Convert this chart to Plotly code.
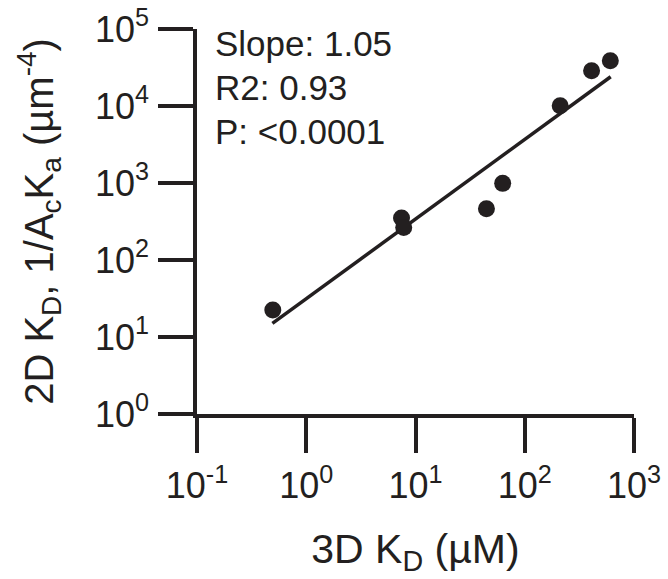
import plotly.graph_objects as go

# Data
kd3d_uM = [0.494, 7.45, 7.8, 44.6, 62.8, 211, 409, 607]
kd2d_um4 = [22.4, 351, 265, 464, 989, 10090, 28700, 38700]
fit_x = [0.49, 612]
fit_y = [15.0, 24000]
x_tickvals = [0.1, 1, 10, 100, 1000]
x_ticktext = ["10<sup>-1</sup>", "10<sup>0</sup>", "10<sup>1</sup>", "10<sup>2</sup>", "10<sup>3</sup>"]
y_tickvals = [1, 10, 100, 1000, 10000, 100000]
y_ticktext = ["10<sup>0</sup>", "10<sup>1</sup>", "10<sup>2</sup>", "10<sup>3</sup>", "10<sup>4</sup>", "10<sup>5</sup>"]
stats_lines = ["Slope: 1.05", "R2: 0.93", "P: <0.0001"]

INK = "#231f20"
FONT = "Arial, Liberation Sans, Helvetica, sans-serif"

fig = go.Figure()
fig.add_trace(go.Scatter(x=fit_x, y=fit_y, mode="lines",
                         line=dict(color=INK, width=3.5), showlegend=False, hoverinfo="skip"))
fig.add_trace(go.Scatter(x=kd3d_uM, y=kd2d_um4, mode="markers",
                         marker=dict(color=INK, size=17, line=dict(width=0)), showlegend=False))

axis_common = dict(type="log", showline=True, linecolor=INK, linewidth=3.5,
                   ticks="outside", ticklen=35, tickwidth=3.5, tickcolor=INK,
                   showgrid=False, zeroline=False, mirror=False, automargin=False,
                   tickfont=dict(family=FONT, size=36, color=INK))

fig.update_layout(
    width=668, height=579,
    margin=dict(l=197, r=34, t=29, b=165, pad=0, autoexpand=False),
    paper_bgcolor="white", plot_bgcolor="white",
    font=dict(family=FONT, color=INK),
    xaxis=dict(range=[-1, 3], tickvals=x_tickvals, ticktext=x_ticktext, ticklabelstandoff=2,
               title=dict(text="3D K<sub>D</sub> (µM)", font=dict(family=FONT, size=41, color=INK), standoff=30),
               **axis_common),
    yaxis=dict(range=[0, 5], tickvals=y_tickvals, ticktext=y_ticktext, ticklabelstandoff=2,
               title=dict(text="2D K<sub>D</sub>, 1/A<sub>c</sub>K<sub>a</sub> (µm<sup>-4</sup>)",
                          font=dict(family=FONT, size=40, color=INK), standoff=30),
               **axis_common),
)

ys = [0.962, 0.847, 0.735]
for txt, yy in zip(stats_lines, ys):
    fig.add_annotation(text=txt, xref="paper", yref="paper", x=0.036, y=yy,
                       xanchor="left", yanchor="middle", showarrow=False,
                       font=dict(family=FONT, size=35, color=INK))

fig.write_html("out.html")
